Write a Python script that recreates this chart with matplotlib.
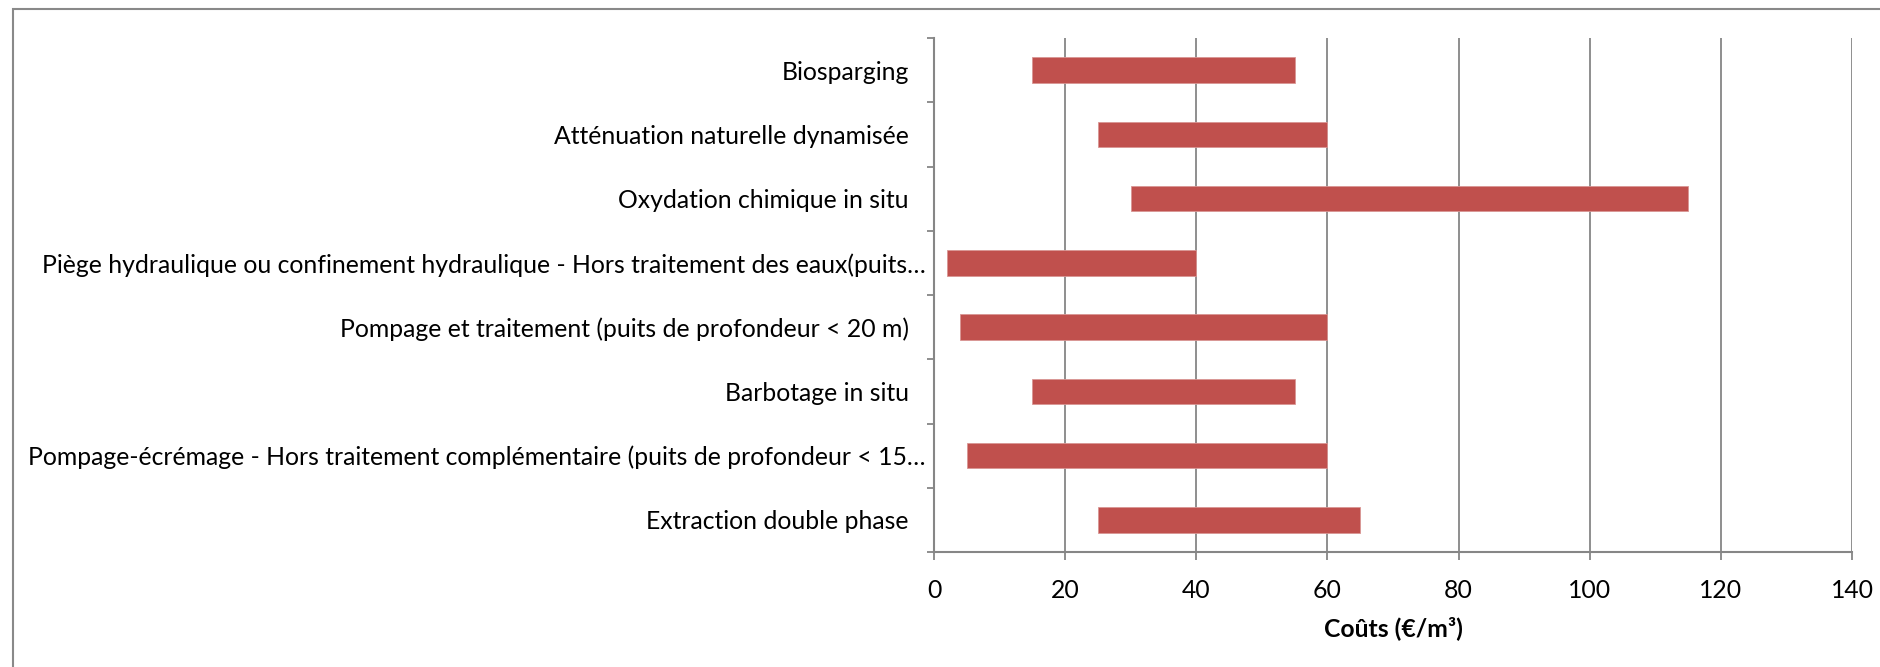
import matplotlib.pyplot as plt
import numpy as np
from matplotlib.patches import Rectangle

plt.rcParams['font.family'] = ['Lato', 'DejaVu Sans']

# categories listed bottom to top (Excel order)
categories = [
    "Extraction double phase",
    "Pompage-écrémage - Hors traitement complémentaire (puits de profondeur < 15…",
    "Barbotage in situ",
    "Pompage et traitement (puits de profondeur < 20 m)",
    "Piège hydraulique ou confinement hydraulique - Hors traitement des eaux(puits…",
    "Oxydation chimique in situ",
    "Atténuation naturelle dynamisée",
    "Biosparging",
]
cost_min = np.array([25, 5, 15, 4, 2, 30, 25, 15])
cost_max = np.array([65, 60, 55, 60, 40, 115, 60, 55])
x_ticks = [0, 20, 40, 60, 80, 100, 120, 140]

grey = '#868686'
bar_col = '#C0504D'
fs = 17.8

fig = plt.figure(figsize=(18.81, 6.67), dpi=100)
ax = fig.add_axes([934 / 1881, 1 - 552 / 667, (1852 - 934) / 1881, (552 - 38) / 667])

y = np.arange(len(categories))
ax.barh(y, cost_max - cost_min, left=cost_min, height=0.4, color=bar_col,
        edgecolor='#D99694', linewidth=0.6, zorder=3)

ax.set_xlim(0, 140)
ax.set_ylim(-0.5, len(categories) - 0.5)
ax.set_xticks(x_ticks)
ax.set_yticks(y)
ax.set_yticklabels([])
ax.set_yticks(np.arange(-0.5, len(categories)), minor=True)

# category labels (truncated ones sit closer to the axis, like Excel)
for yi, lab in zip(y, categories):
    off = 6 if lab.endswith('…') else 18
    ax.annotate(lab, xy=(0, yi), xycoords=ax.get_yaxis_transform(),
                xytext=(-off, 0), textcoords='offset points',
                ha='right', va='center_baseline', fontsize=fs)

ax.grid(axis='x', color=grey, linewidth=1.3, zorder=0)
for s in ['top', 'right']:
    ax.spines[s].set_visible(False)
for s in ['left', 'bottom']:
    ax.spines[s].set_color(grey)
    ax.spines[s].set_linewidth(1.5)

ax.tick_params(axis='y', which='major', length=0)
ax.tick_params(axis='y', which='minor', length=5.4, width=1.3, color=grey, direction='out')
ax.tick_params(axis='x', length=5.4, width=1.3, color=grey, direction='out', pad=14, labelsize=fs)

ax.set_xlabel('Coûts (€/m³)', fontsize=fs, fontweight='bold', labelpad=10)

# chart area border
fig.add_artist(Rectangle((12.7 / 1881, -0.2), 1.2, 1.2 - 9 / 667,
                         transform=fig.transFigure, fill=False,
                         edgecolor='#898989', linewidth=1.5))

fig.savefig('out.png', dpi=100, facecolor='white')
